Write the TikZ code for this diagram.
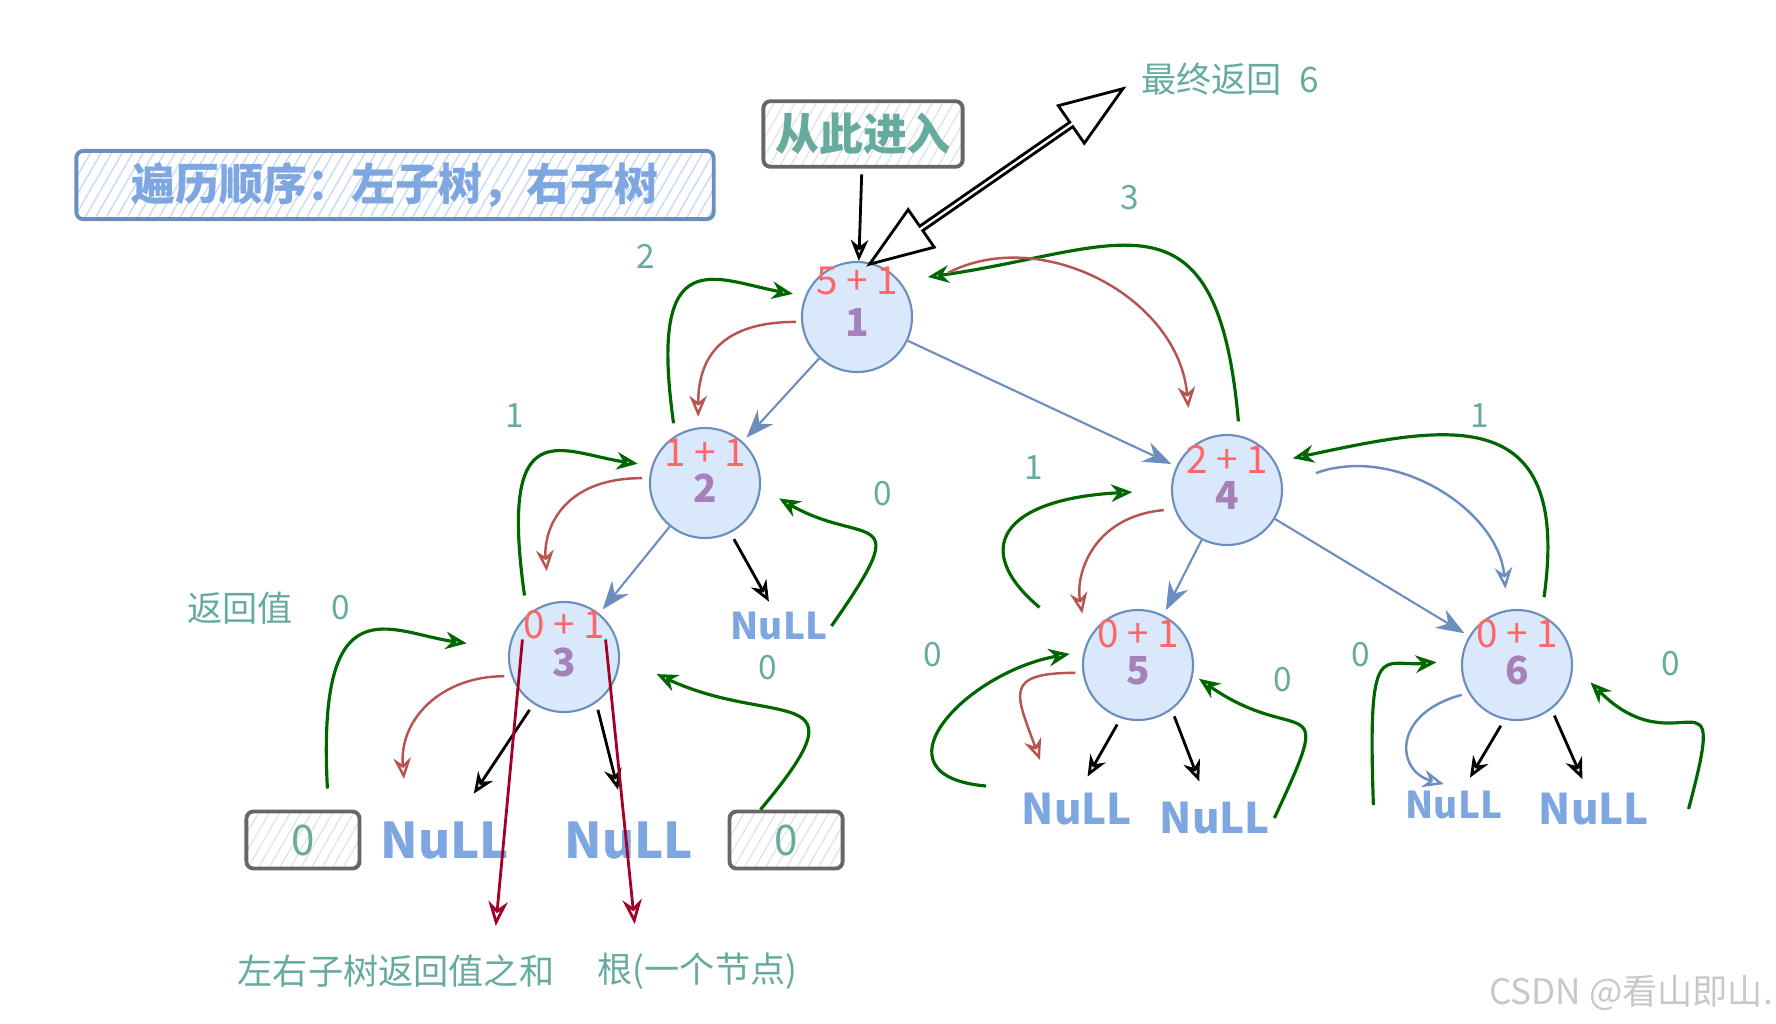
\documentclass[tikz,border=0pt]{standalone}
\usepackage{fontspec}
\setmainfont{Noto Sans CJK SC}
\usepackage{tikz}
\usetikzlibrary{
  arrows.meta,
  positioning,
  calc,
  shapes.arrows,
  patterns.meta
}
\definecolor{NodeBlue}{RGB}{218,232,252}
\definecolor{EdgeBlue}{RGB}{108,142,191}
\definecolor{NullBlue}{RGB}{126,166,224}
\definecolor{HatchBlue}{RGB}{200,218,246}
\definecolor{NoteTeal}{RGB}{103,171,159}
\definecolor{SumRed}{RGB}{255,102,102}
\definecolor{KeyPurple}{RGB}{166,128,184}
\definecolor{BackGreen}{RGB}{0,102,0}
\definecolor{DownRed}{RGB}{184,84,80}
\definecolor{PathCrimson}{RGB}{162,0,37}
\definecolor{BoxGray}{RGB}{102,102,102}
\definecolor{HatchGray}{RGB}{222,222,222}
\definecolor{MarkGray}{RGB}{200,200,200}
\tikzset{
  treenode/.style={circle,draw=EdgeBlue,fill=NodeBlue,line width=0.6pt,minimum size=1.1cm,inner sep=0pt,text height=11pt,text depth=0pt,text=KeyPurple,font=\fontsize{11}{11}\selectfont\bfseries},
  sumtext/.style={text=SumRed,inner sep=0pt,font=\fontsize{11}{11}\selectfont},
  nullnode/.style={text=NullBlue,inner sep=1pt,font=\fontsize{14}{14}\selectfont\bfseries},
  smallnull/.style={nullnode,font=\fontsize{10.5}{10.5}\selectfont\bfseries},
  midnull/.style={nullnode,font=\fontsize{12}{12}\selectfont\bfseries},
  notetext/.style={text=NoteTeal,inner sep=1pt,font=\fontsize{10}{12}\selectfont},
  tagtext/.style={text=NoteTeal,inner sep=1pt,font=\fontsize{9.5}{10}\selectfont},
  marktext/.style={text=MarkGray,inner sep=1pt,font=\fontsize{10}{12}\selectfont},
  titlebox/.style={draw=EdgeBlue,line width=1.1pt,rounded corners=2pt,pattern={Lines[angle=60,distance=2.6pt,line width=0.4pt]},pattern color=HatchBlue,minimum width=6.37cm,minimum height=0.6cm,text=NullBlue,font=\fontsize{12.5}{14}\selectfont\bfseries},
  enterbox/.style={draw=BoxGray,line width=1.1pt,rounded corners=2pt,pattern={Lines[angle=60,distance=2.6pt,line width=0.3pt]},pattern color=HatchGray,minimum width=1.96cm,minimum height=0.6cm,text=NoteTeal,font=\fontsize{12.5}{14}\selectfont\bfseries},
  zerobox/.style={enterbox,minimum width=1.13cm,minimum height=0.57cm,font=\fontsize{12}{14}\selectfont},
  treearrow/.style={-{Stealth[length=8pt,width=6pt]},line width=0.6pt,draw=EdgeBlue,shorten >=1.5pt},
  backarrow/.style={-{Stealth[open,length=6pt,width=5pt]},line width=0.9pt,draw=BackGreen},
  downarrow/.style={-{Stealth[open,length=6pt,width=5pt]},line width=0.7pt,draw=DownRed},
  travarrow/.style={-{Stealth[open,length=6pt,width=5pt]},line width=0.7pt,draw=EdgeBlue},
  nullarrow/.style={-{Stealth[open,length=6pt,width=5pt]},line width=0.8pt,draw=black,shorten <=2pt},
  sumarrow/.style={-{Stealth[open,length=7pt,width=5.5pt]},line width=0.8pt,draw=PathCrimson,shorten >=7pt},
  bigarrow/.style={shape=double arrow,draw=black,fill=white,line width=0.8pt,inner sep=0pt,minimum width=13pt,double arrow head extend=3pt,double arrow tip angle=40}
}
\begin{document}
\begin{tikzpicture}[x=0.01cm,y=0.01cm]
\useasboundingbox (0,0) rectangle (1776,-1023);
\node[titlebox] (title) at (395,-185) {遍历顺序：左子树，右子树};
\node[enterbox] (enter) at (863,-134) {从此进入};
\node[notetext] (fin) at (1230,-79) {最终返回\hspace{5pt}6};
\node[treenode] (n1) at (857,-317) {1};
\node[treenode] (n2) at (705,-483) {2};
\node[treenode] (n3) at (564,-657) {3};
\node[treenode] (n4) at (1227,-490) {4};
\node[treenode] (n5) at (1138,-665) {5};
\node[treenode] (n6) at (1517,-665) {6};
\node[sumtext, above=6pt of n1.center] (s1) {5 + 1};
\node[sumtext, above=4.5pt of n2.center] (s2) {1 + 1};
\node[sumtext, above=5pt of n3.center] (s3) {0 + 1};
\node[sumtext, above=4.5pt of n4.center] (s4) {2 + 1};
\node[sumtext, above=4.5pt of n5.center] (s5) {0 + 1};
\node[sumtext, above=4.5pt of n6.center] (s6) {0 + 1};
\node[smallnull] (nl2) at (779,-626) {NuLL};
\node[nullnode] (nl3a) at (445,-840) {NuLL};
\node[nullnode] (nl3b) at (629,-840) {NuLL};
\node[midnull] (nl5a) at (1077,-809) {NuLL};
\node[midnull] (nl5b) at (1215,-818) {NuLL};
\node[smallnull] (nl6a) at (1454,-805) {NuLL};
\node[midnull] (nl6b) at (1594,-809) {NuLL};
\node[zerobox, left=0.15cm of nl3a] (z3a) {0};
\node[zerobox, right=0.3cm of nl3b] (z3b) {0};
\node[tagtext] (c2) at (646,-256) {2};
\node[tagtext] (c3) at (1130,-198) {3};
\node[tagtext] (c1a) at (515,-416) {1};
\node[tagtext] (c0a) at (883,-494) {0};
\node[tagtext] (c1b) at (1034,-468) {1};
\node[tagtext] (c1c) at (1480,-416) {1};
\node[notetext] (ret) at (240,-608) {返回值};
\node[tagtext, right=0.3cm of ret] (c0b) {0};
\node[tagtext] (c0c) at (768,-668) {0};
\node[tagtext] (c0d) at (933,-655) {0};
\node[tagtext] (c0e) at (1283,-680) {0};
\node[tagtext] (c0f) at (1361,-655) {0};
\node[tagtext] (c0g) at (1671,-664) {0};
\node[notetext] (sum) at (396,-971) {左右子树返回值之和};
\node[notetext, right=0.35cm of sum] (root) {根(一个节点)};
\node[marktext] (mark) at (1631,-993) {CSDN @看山即山.};
\coordinate (r3) at (404,-779);
\coordinate (r5) at (1040,-760);
\draw[treearrow] (n1) -- (n2);
\draw[treearrow] (n1) -- (n4);
\draw[treearrow] (n2) -- (n3);
\draw[treearrow] (n4) -- (n5);
\draw[treearrow] (n4) -- (n6);
\draw[nullarrow] (enter) -- (n1);
\path (n1.75) -- node[bigarrow, sloped, pos=0.47, minimum height=3.08cm] (fret) {} (fin.west);
\draw[backarrow, shorten <=3.5pt, shorten >=3.5pt] (n2.122) .. controls +(98:200) and +(170:90) .. (n1.158);
\draw[backarrow, shorten <=4pt, shorten >=8pt] (n4.77) .. controls +(95:260) and +(8:220) .. (n1.40);
\draw[backarrow, shorten <=5.5pt, shorten >=4pt] (n3.131) .. controls +(98:210) and +(172:90) .. (n2.162);
\draw[backarrow, shorten >=6pt] (nl2.east) .. controls +(55:150) and +(-30:120) .. (n2.-5);
\draw[backarrow, shorten <=6pt, shorten >=12pt] (z3a.50) .. controls +(93:230) and +(172:120) .. (n3.172);
\draw[backarrow, shorten >=11.5pt] (z3b.130) .. controls +(50:170) and +(-25:170) .. (n3.0);
\draw[backarrow, shorten <=17pt, shorten >=11pt] (n5.160) .. controls +(140:150) and +(183:170) .. (n4.180);
\draw[backarrow, shorten <=5pt, shorten >=5pt] (n6.64) .. controls +(82:220) and +(12:170) .. (n4.30);
\draw[backarrow, shorten <=9pt, shorten >=4pt] (nl5a.north west) .. controls +(175:150) and +(190:120) .. (n5.166);
\draw[backarrow, shorten >=2pt] (nl5b.east) .. controls +(65:150) and +(-35:130) .. (n5.-10);
\draw[backarrow, shorten >=7pt] ([xshift=-8pt]nl6a.west) .. controls +(92:170) and +(185:80) .. (n6.175);
\draw[backarrow, shorten >=7pt] ([xshift=10pt]nl6b.east) .. controls +(75:160) and +(-45:150) .. (n6.0);
\draw[downarrow, shorten <=1.5pt, shorten >=3pt] (n1.185) .. controls +(180:80) and +(90:70) .. (n2.97);
\draw[downarrow, shorten <=13pt, shorten >=11pt] (n1.25) .. controls +(27:150) and +(95:150) .. (n4.129);
\draw[downarrow, shorten <=2pt, shorten >=9pt] (n2.175) .. controls +(180:90) and +(95:70) .. (n3.105);
\draw[downarrow, shorten <=2pt] (n3.200) .. controls +(180:70) and +(95:60) .. (r3);
\draw[downarrow, shorten <=3pt, shorten >=8pt] (n4.200) .. controls +(185:80) and +(100:70) .. (n5.155);
\draw[downarrow, shorten <=2pt] (n5.188) .. controls +(180:80) and +(110:70) .. (r5);
\draw[travarrow, shorten <=10pt, shorten >=6pt] (n4.5) .. controls +(20:120) and +(95:100) .. (n6.100);
\draw[travarrow, shorten <=2pt, shorten >=3pt] (n6.210) .. controls +(195:80) and +(165:60) .. (nl6a.north);
\draw[nullarrow, shorten >=2pt] (n2.-63) -- (nl2.110);
\draw[nullarrow, shorten >=8pt] (n3.237) -- (nl3a.60);
\draw[nullarrow, shorten >=8pt] (n3.-55) -- (nl3b.100);
\draw[nullarrow, shorten >=4pt] (n5.252) -- (nl5a.80);
\draw[nullarrow, shorten >=5pt] (n5.-53) -- (nl5b.115);
\draw[nullarrow, shorten >=3pt] (n6.257) -- (nl6a.60);
\draw[nullarrow, shorten >=3pt] (n6.-52) -- (nl6b.110);
\draw[sumarrow] (s3.south west) -- ($(sum.north)!0.6!(sum.north east)$);
\draw[sumarrow] (s3.south east) -- ($(root.north)!0.58!(root.north west)$);
\end{tikzpicture}
\end{document}
